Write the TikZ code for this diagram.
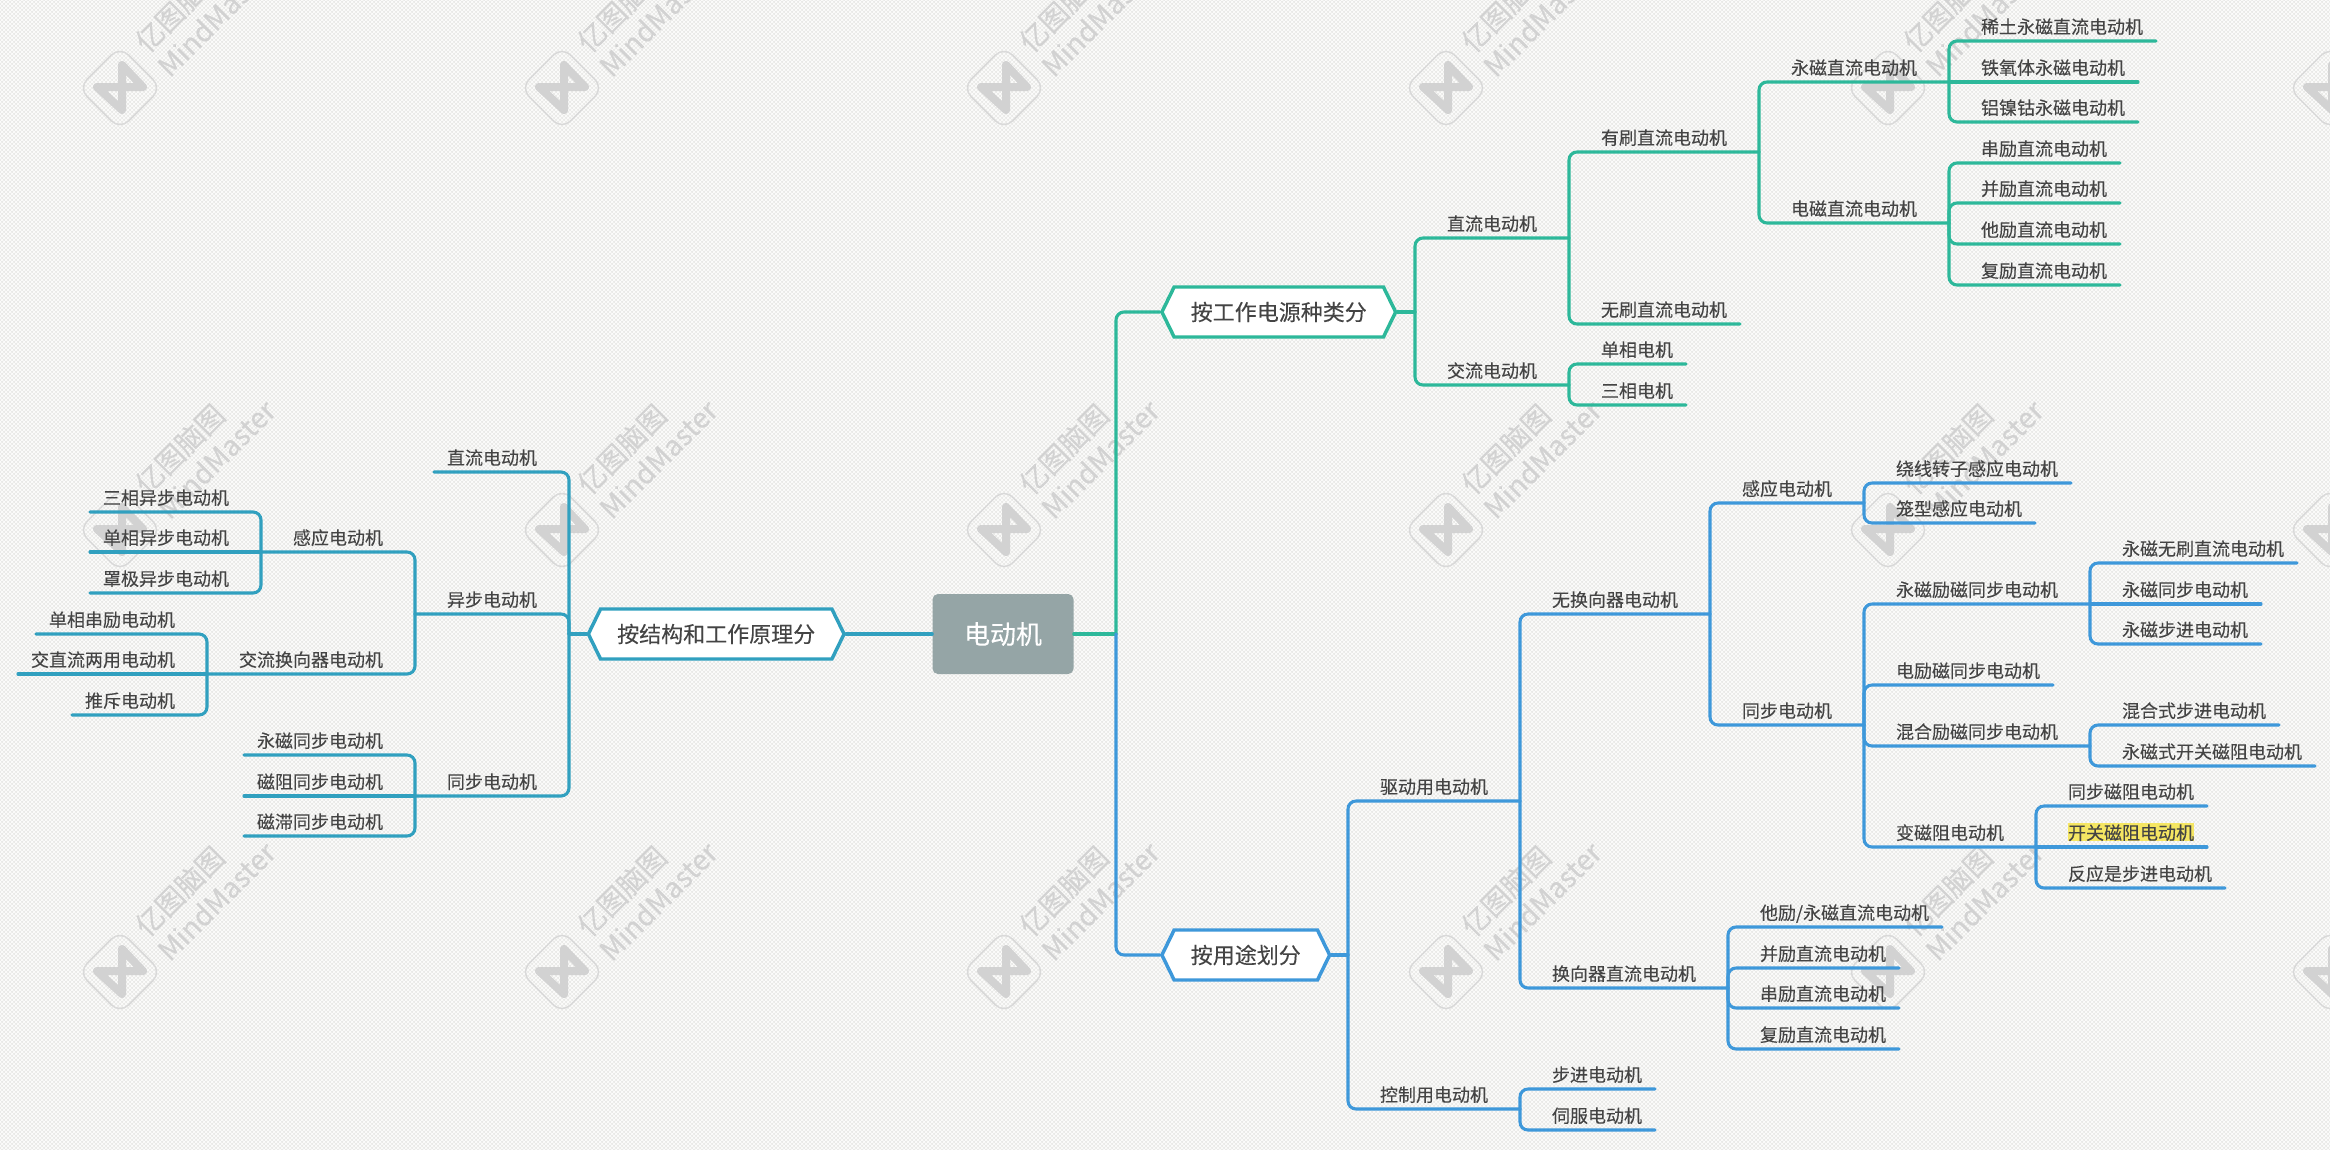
\documentclass[tikz,border=0pt]{standalone}
\usepackage{fontspec}
\setmainfont{Noto Sans CJK SC}[FakeBold=0.12]
\usetikzlibrary{shapes.symbols, patterns}
\setlength{\fboxsep}{0pt}
\definecolor{paper}{HTML}{E9E9E7}
\definecolor{inktext}{HTML}{444444}
\definecolor{gline}{HTML}{2DB89A}
\definecolor{bline}{HTML}{3E98DA}
\definecolor{tline}{HTML}{31A0BF}
\definecolor{rootfill}{HTML}{95A5A6}
\definecolor{hilite}{HTML}{F5E663}
\definecolor{wmark}{HTML}{D2D2D2}
\tikzset{
	topic/.style={inner sep=0pt, outer sep=0pt, text=inktext, font=\fontsize{13.5pt}{16pt}\selectfont, text height=14pt, text depth=5.6pt},
	rhead/.style={topic, anchor=south west, execute at begin node={\hspace*{24pt}}, execute at end node={\hspace*{24pt}}},
	rleaf/.style={topic, anchor=south west, execute at begin node={\hspace*{24pt}}, execute at end node={\hspace*{9.75pt}}},
	lhead/.style={topic, anchor=south east, execute at begin node={\hspace*{24pt}}, execute at end node={\hspace*{24pt}}},
	lleaf/.style={topic, anchor=south east, execute at begin node={\hspace*{9.75pt}}, execute at end node={\hspace*{24pt}}},
	hexbox/.style={shape=signal, signal to=west and east, signal pointer angle=128, draw, fill=white, line width=2.6pt, text=inktext, font=\fontsize{16.5pt}{20pt}\selectfont, minimum height=37.5pt, inner xsep=12.5pt, inner ysep=0pt},
	link/.style={line width=2.3pt, line cap=round, rounded corners=6pt},
	wmtext/.style={inner sep=0pt, text=wmark, font=\fontsize{21pt}{24pt}\selectfont, rotate=45, anchor=west},
}
\begin{document}
\begin{tikzpicture}[x=.75pt, y=-.75pt]
		\useasboundingbox (0,0) rectangle (2330,1150);
		\clip (0,0) rectangle (2330,1150);
		\fill[paper] (0,0) rectangle (2330,1150);
		\fill[pattern=crosshatch, pattern color=white] (0,0) rectangle (2330,1150);
		
		% watermark
		\foreach \wx in {120,562,1004,1446,1888,2330}
		\foreach \wy in {88,530,972} {
			\node[draw=wmark!85, line width=1.1pt, rounded corners=9pt, rotate=45, minimum size=44pt] (wd\wx-\wy) at (\wx,\wy) {};
			\draw[wmark, line width=6pt, line join=round] (\wx-23,\wy-1) -- (\wx+23,\wy-1) -- (\wx+2,\wy-23) -- (\wx+2,\wy+22) -- cycle;
			\node[wmtext] (wa\wx-\wy) at (\wx+20,\wy-41) {亿图脑图};
			\node[wmtext] (wb\wx-\wy) at (\wx+42,\wy-17) {MindMaster};
		}
		
		\node[fill=rootfill, rounded corners=4pt, text=white, font=\fontsize{19.5pt}{24pt}\selectfont, minimum width=105.75pt, minimum height=60pt, inner sep=0pt] (root) at (1003,634) {电动机};
		\coordinate (rt) at (1116,634);
		\node[hexbox, draw=gline, anchor=west] (hexG) at (1160,312) {按工作电源种类分};
		\node[hexbox, draw=bline, anchor=west] (hexB) at (1160,955) {按用途划分};
		\node[hexbox, draw=tline, anchor=east] (hexL) at (846,634) {按结构和工作原理分};
		\coordinate (gt) at (1415,312);
		\coordinate (bt) at (1348,955);
		\coordinate (lt) at (569,634);
		
		% power supply
		\node[rhead] (dc) at (gt |- 0,238) {直流电动机};
		\node[rhead] (ac) at (gt |- 0,385) {交流电动机};
		\node[rhead] (brush) at (dc.south east |- 0,152) {有刷直流电动机};
		\node[rleaf] (nobrush) at (dc.south east |- 0,324) {无刷直流电动机};
		\node[rleaf] (single) at (ac.south east |- 0,364) {单相电机};
		\node[rleaf] (three) at (ac.south east |- 0,405) {三相电机};
		\node[rhead] (pm) at (brush.south east |- 0,82) {永磁直流电动机};
		\node[rhead] (em) at (brush.south east |- 0,223) {电磁直流电动机};
		\node[rleaf] (pm1) at (pm.south east |- 0,41) {稀土永磁直流电动机};
		\node[rleaf] (pm2) at (pm.south east |- 0,82) {铁氧体永磁电动机};
		\node[rleaf] (pm3) at (pm.south east |- 0,122) {铝镍钴永磁电动机};
		\node[rleaf] (em1) at (em.south east |- 0,163) {串励直流电动机};
		\node[rleaf] (em2) at (em.south east |- 0,203) {并励直流电动机};
		\node[rleaf] (em3) at (em.south east |- 0,244) {他励直流电动机};
		\node[rleaf] (em4) at (em.south east |- 0,285) {复励直流电动机};
		
		% use
		\node[rhead] (drive) at (bt |- 0,801) {驱动用电动机};
		\node[rhead] (ctrl) at (bt |- 0,1109) {控制用电动机};
		\node[rhead] (nocomm) at (drive.south east |- 0,614) {无换向器电动机};
		\node[rhead] (comm) at (drive.south east |- 0,988) {换向器直流电动机};
		\node[rleaf] (step) at (ctrl.south east |- 0,1089) {步进电动机};
		\node[rleaf] (servo) at (ctrl.south east |- 0,1130) {伺服电动机};
		\node[rhead] (ind) at (nocomm.south east |- 0,503) {感应电动机};
		\node[rhead] (syn) at (nocomm.south east |- 0,725) {同步电动机};
		\node[rleaf] (ind1) at (ind.south east |- 0,483) {绕线转子感应电动机};
		\node[rleaf] (ind2) at (ind.south east |- 0,523) {笼型感应电动机};
		\node[rhead] (syn1) at (syn.south east |- 0,604) {永磁励磁同步电动机};
		\node[rleaf] (syn2) at (syn.south east |- 0,685) {电励磁同步电动机};
		\node[rhead] (syn3) at (syn.south east |- 0,746) {混合励磁同步电动机};
		\node[rhead] (syn4) at (syn.south east |- 0,847) {变磁阻电动机};
		\node[rleaf] (pa) at (syn1.south east |- 0,563) {永磁无刷直流电动机};
		\node[rleaf] (pb) at (syn1.south east |- 0,604) {永磁同步电动机};
		\node[rleaf] (pc) at (syn1.south east |- 0,644) {永磁步进电动机};
		\node[rleaf] (ha) at (syn3.south east |- 0,725) {混合式步进电动机};
		\node[rleaf] (hb) at (syn3.south east |- 0,766) {永磁式开关磁阻电动机};
		\node[rleaf] (va) at (syn4.south east |- 0,806) {同步磁阻电动机};
		\node[rleaf] (vb) at (syn4.south east |- 0,847) {\colorbox{hilite}{\rule[-1.1pt]{0pt}{13.5pt}开关磁阻电动机}};
		\node[rleaf] (vc) at (syn4.south east |- 0,888) {反应是步进电动机};
		\node[rleaf] (ca) at (comm.south east |- 0,927) {他励/永磁直流电动机};
		\node[rleaf] (cb) at (comm.south east |- 0,968) {并励直流电动机};
		\node[rleaf] (cc) at (comm.south east |- 0,1008) {串励直流电动机};
		\node[rleaf] (cd) at (comm.south east |- 0,1049) {复励直流电动机};
		
		% structure
		\node[lleaf] (ldc) at (lt |- 0,472) {直流电动机};
		\node[lhead] (lasyn) at (lt |- 0,614) {异步电动机};
		\node[lhead] (lsyn) at (lt |- 0,796) {同步电动机};
		\node[lhead] (lind) at (lasyn.south west |- 0,552) {感应电动机};
		\node[lhead] (lcomm) at (lasyn.south west |- 0,674) {交流换向器电动机};
		\node[lleaf] (li1) at (lind.south west |- 0,512) {三相异步电动机};
		\node[lleaf] (li2) at (lind.south west |- 0,552) {单相异步电动机};
		\node[lleaf] (li3) at (lind.south west |- 0,593) {罩极异步电动机};
		\node[lleaf] (lc1) at (lcomm.south west |- 0,634) {单相串励电动机};
		\node[lleaf] (lc2) at (lcomm.south west |- 0,674) {交直流两用电动机};
		\node[lleaf] (lc3) at (lcomm.south west |- 0,715) {推斥电动机};
		\node[lleaf] (ls1) at (lsyn.south west |- 0,755) {永磁同步电动机};
		\node[lleaf] (ls2) at (lsyn.south west |- 0,796) {磁阻同步电动机};
		\node[lleaf] (ls3) at (lsyn.south west |- 0,836) {磁滞同步电动机};
		
		% connectors
		\draw[link, gline] (root.east) -- (rt);
		\draw[link, gline] (rt) |- (hexG.west);
		\draw[link, bline] (rt) |- (hexB.west);
		\draw[link, gline] (hexG.east) -- (gt);
		\draw[link, bline] (hexB.east) -- (bt);
		\draw[link, tline] (root.west) -- (hexL.east);
		\draw[link, tline] (hexL.west) -- (lt);
		
		\draw[link, gline] (gt) |- (dc.south east);
		\draw[link, gline] (gt) |- (ac.south east);
		\foreach \a/\b in {dc/brush, dc/nobrush, ac/single, ac/three, brush/pm, brush/em, pm/pm1, pm/pm3, em/em1, em/em2, em/em3, em/em4}
			\draw[link, gline] (\a.south east) |- (\b.south east);
		\draw[link, gline] (pm.south east) -- (pm2.south east);
		
		\draw[link, bline] (bt) |- (drive.south east);
		\draw[link, bline] (bt) |- (ctrl.south east);
		\foreach \a/\b in {drive/nocomm, drive/comm, ctrl/step, ctrl/servo, nocomm/ind, nocomm/syn, ind/ind1, ind/ind2, syn/syn1, syn/syn2, syn/syn3, syn/syn4, syn1/pa, syn1/pc, syn3/ha, syn3/hb, syn4/va, syn4/vc, comm/ca, comm/cb, comm/cc, comm/cd}
			\draw[link, bline] (\a.south east) |- (\b.south east);
		\draw[link, bline] (syn1.south east) -- (pb.south east);
		\draw[link, bline] (syn4.south east) -- (vb.south east);
		
		\draw[link, tline] (lt) |- (ldc.south west);
		\draw[link, tline] (lt) |- (lasyn.south west);
		\draw[link, tline] (lt) |- (lsyn.south west);
		\foreach \a/\b in {lasyn/lind, lasyn/lcomm, lind/li1, lind/li3, lcomm/lc1, lcomm/lc3, lsyn/ls1, lsyn/ls3}
			\draw[link, tline] (\a.south west) |- (\b.south west);
		\draw[link, tline] (lind.south west) -- (li2.south west);
		\draw[link, tline] (lcomm.south west) -- (lc2.south west);
		\draw[link, tline] (lsyn.south west) -- (ls2.south west);
\end{tikzpicture}
\end{document}
